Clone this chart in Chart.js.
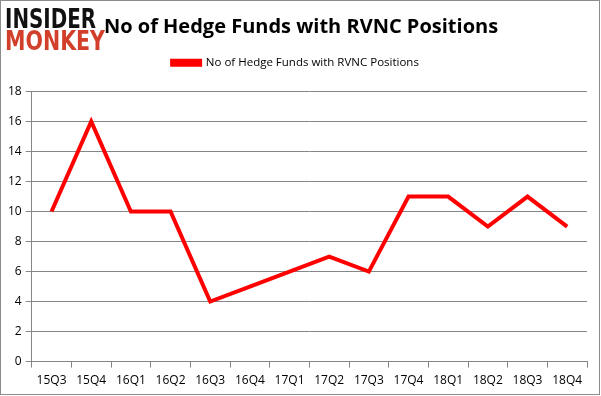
<!DOCTYPE html>
<html>
<head>
    <title>RVNC</title>
    <style>
        body {
            margin: 0;
            background-color: #ffffff;
        }

        #chartBox {
            width: 601px;
            height: 396px;
        }
    </style>
    <script src="https://cdn.jsdelivr.net/npm/chart.js"></script>
</head>
<body>
    <div id="chartBox">
        <canvas id="fundsChart"></canvas>
    </div>

    <script>
        var quarters = ['15Q3', '15Q4', '16Q1', '16Q2', '16Q3', '16Q4', '17Q1', '17Q2', '17Q3', '17Q4', '18Q1', '18Q2', '18Q3', '18Q4'];
        var fundCounts = [10, 16, 10, 10, 4, 5, 6, 7, 6, 11, 11, 9, 11, 9];
        var seriesName = 'No of Hedge Funds with RVNC Positions';
        var chartTitle = 'No of Hedge Funds with RVNC Positions';

        var baseFont = '"Open Sans", "DejaVu Sans", sans-serif';

        // squeeze a word to a given width
        function fitText(ctx, text, x, y, width) {
            var w = ctx.measureText(text).width;
            ctx.save();
            ctx.translate(x, y);
            ctx.scale(width / w, 1);
            ctx.fillText(text, 0, 0);
            ctx.restore();
        }

        // extra room under the legend
        var legendGapPlugin = {
            id: 'legendGap',
            afterInit: function(chart) {
                var legend = chart.legend;
                if (!legend) return;
                var oldFit = legend.fit;
                legend.fit = function() {
                    oldFit.call(this);
                    this.height += 13;
                };
            }
        };

        // logo, title and frame drawn on the canvas
        var decorPlugin = {
            id: 'decor',
            afterDraw: function(chart) {
                var ctx = chart.ctx;
                ctx.save();
                ctx.strokeStyle = '#8c8c8c';
                ctx.lineWidth = 1;
                ctx.strokeRect(0.5, 0.5, 599, 394);

                ctx.textBaseline = 'alphabetic';
                ctx.font = 'bold 27px "DejaVu Sans", sans-serif';
                ctx.fillStyle = '#111111';
                fitText(ctx, 'INSIDER', 5, 28, 91);
                ctx.fillStyle = '#d2402b';
                fitText(ctx, 'MONKEY', 5, 50, 100);

                ctx.font = 'bold 20px ' + baseFont;
                ctx.fillStyle = '#000000';
                ctx.textAlign = 'center';
                ctx.fillText(chartTitle, 301, 33);
                ctx.restore();
            }
        };

        new Chart(document.getElementById('fundsChart'), {
            type: 'line',
            data: {
                labels: quarters,
                datasets: [{
                    label: seriesName,
                    data: fundCounts,
                    borderColor: '#ff0000',
                    backgroundColor: '#ff0000',
                    borderWidth: 4,
                    pointRadius: 0,
                    tension: 0,
                    fill: false
                }]
            },
            options: {
                responsive: true,
                maintainAspectRatio: false,
                animation: false,
                layout: {
                    padding: { top: 30, right: 14, left: 4, bottom: 2 }
                },
                plugins: {
                    title: { display: false },
                    tooltip: { enabled: false },
                    legend: {
                        display: true,
                        labels: {
                            boxWidth: 28,
                            boxHeight: 4,
                            color: '#000000',
                            font: { family: baseFont, size: 11.5 },
                            padding: 27
                        }
                    }
                },
                scales: {
                    x: {
                        offset: true,
                        grid: {
                            offset: true,
                            drawOnChartArea: false,
                            color: '#868686',
                            tickLength: 6
                        },
                        border: { color: '#868686' },
                        ticks: {
                            color: '#000000',
                            font: { family: baseFont, size: 12 },
                            maxRotation: 0,
                            padding: 6
                        }
                    },
                    y: {
                        min: 0,
                        max: 18,
                        grid: {
                            color: '#868686',
                            tickLength: 6
                        },
                        border: { color: '#868686' },
                        ticks: {
                            stepSize: 2,
                            color: '#000000',
                            font: { family: baseFont, size: 12 },
                            padding: 4
                        }
                    }
                }
            },
            plugins: [legendGapPlugin, decorPlugin]
        });
    </script>
</body>
</html>
